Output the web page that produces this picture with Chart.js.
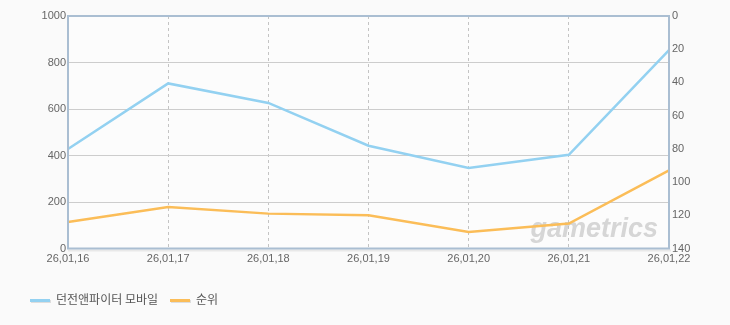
<!DOCTYPE html>
<html>
<head>
<meta charset="utf-8">
<script src="https://cdn.jsdelivr.net/npm/chart.js@4.4.1/dist/chart.umd.min.js"></script>
<style>
  html, body { margin: 0; padding: 0; background: #fafafa; }
  #wrap { position: relative; width: 730px; height: 325px; }
  #legend { position: absolute; left: 30px; top: 290px; font: 12px 'Noto Sans CJK KR', sans-serif; color: #555; white-space: nowrap; }
  #legend span.item { display: inline-block; margin-right: 12px; }
  #legend i { display: inline-block; width: 20px; height: 3px; vertical-align: middle; margin-right: 6px; box-shadow: 1px 1px 0 #ddd; }
</style>
</head>
<body>
<div id="wrap">
  <canvas id="rankChart" width="730" height="325"></canvas>
  <div id="legend"></div>
</div>
<script>
// dates on the x axis
const labels = ['26,01,16', '26,01,17', '26,01,18', '26,01,19', '26,01,20', '26,01,21', '26,01,22'];
// left axis series
const gameName = '던전앤파이터 모바일';
const gameValues = [428, 710, 626, 442, 346, 403, 853];
// right axis series (rank, reversed)
const rankName = '순위';
const rankValues = [124, 115, 119, 120, 130, 125, 93];
const leftTicks = [0, 200, 400, 600, 800, 1000];
const rightTicks = [0, 20, 40, 60, 80, 100, 120, 140];

const blue = '#93d1f1';
const orange = '#fbbd58';
const frame = '#aabed2';

// plot background, frame and watermark
const plotDecor = {
  id: 'plotDecor',
  beforeDraw(chart) {
    const a = chart.chartArea, ctx = chart.ctx;
    ctx.save();
    ctx.fillStyle = '#e8e8e8';
    ctx.fillRect(a.left, a.bottom + 1, a.right - a.left + 2, 2);
    ctx.fillStyle = '#fcfcfc';
    ctx.fillRect(a.left, a.top, a.right - a.left, a.bottom - a.top);
    ctx.restore();
  },
  beforeDatasetsDraw(chart) {
    const a = chart.chartArea, ctx = chart.ctx;
    ctx.save();
    ctx.font = 'italic bold 27px "Liberation Sans", sans-serif';
    ctx.fillStyle = 'rgba(175,175,175,0.5)';
    ctx.textAlign = 'right';
    ctx.textBaseline = 'alphabetic';
    ctx.fillText('gametrics', a.right - 11, a.bottom - 12);
    ctx.restore();
  },
  afterDraw(chart) {
    const a = chart.chartArea, ctx = chart.ctx;
    ctx.save();
    ctx.strokeStyle = frame;
    ctx.lineWidth = 2;
    ctx.strokeRect(a.left, a.top, a.right - a.left, a.bottom - a.top);
    ctx.restore();
  }
};

const tickFont = { family: '"Liberation Sans", Arial, sans-serif', size: 11 };

new Chart(document.getElementById('rankChart'), {
  type: 'line',
  data: {
    labels: labels,
    datasets: [{
      label: gameName,
      data: gameValues,
      borderColor: blue,
      borderWidth: 2.5,
      pointRadius: 0,
      tension: 0,
      yAxisID: 'y'
    }, {
      label: rankName,
      data: rankValues,
      borderColor: orange,
      borderWidth: 2.5,
      pointRadius: 0,
      tension: 0,
      yAxisID: 'y1'
    }]
  },
  options: {
    responsive: false,
    animation: false,
    layout: { padding: { top: 16, left: 0, right: 0, bottom: 0 } },
    plugins: { legend: { display: false }, tooltip: { enabled: false } },
    scales: {
      x: {
        offset: false,
        grid: { color: '#c4c4c4', drawTicks: false, tickLength: 0 },
        border: { display: false, dash: [3, 3] },
        ticks: { color: '#666', font: tickFont, padding: 4, maxRotation: 0, autoSkip: false },
        afterFit(scale) { scale.height = 76.5; }
      },
      y: {
        position: 'left',
        min: 0,
        max: 1000,
        afterBuildTicks(scale) { scale.ticks = leftTicks.map(v => ({ value: v })); },
        grid: { color: '#cdcdcd', drawTicks: false },
        border: { display: false },
        ticks: { color: '#666', font: tickFont, padding: 2, callback: v => String(v) },
        afterFit(scale) { scale.width = 68; }
      },
      y1: {
        position: 'right',
        reverse: true,
        min: 0,
        max: 140,
        afterBuildTicks(scale) { scale.ticks = rightTicks.map(v => ({ value: v })); },
        grid: { display: false, drawTicks: false },
        border: { display: false },
        ticks: { color: '#666', font: tickFont, padding: 3, callback: v => String(v) },
        afterFit(scale) { scale.width = 61; }
      }
    }
  },
  plugins: [plotDecor]
});

// legend as html text
document.getElementById('legend').innerHTML =
  '<span class="item"><i style="background:' + blue + '"></i>' + gameName + '</span>' +
  '<span class="item"><i style="background:' + orange + '"></i>' + rankName + '</span>';
</script>
</body>
</html>
